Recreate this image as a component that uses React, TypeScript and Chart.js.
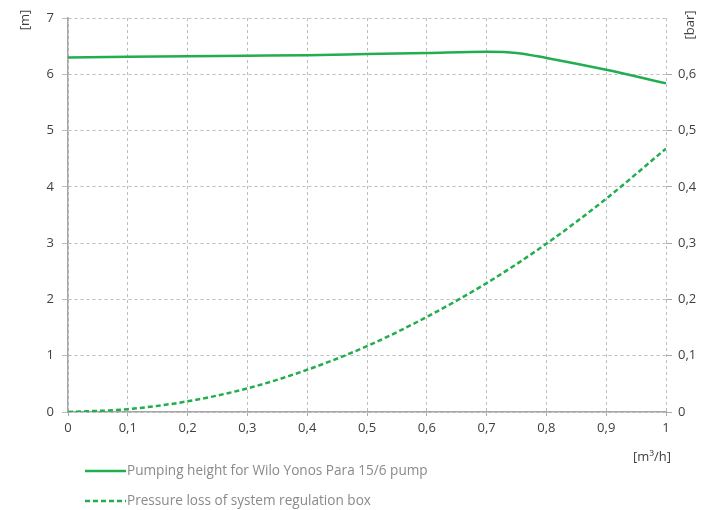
import React, { useEffect, useRef } from "react";
import { Chart, registerables } from "chart.js";

Chart.register(...registerables);

const flowRates = [0, 0.1, 0.2, 0.3, 0.4, 0.5, 0.6, 0.7, 0.75, 0.8, 0.9, 1.0];
const pumpHeight = [6.3, 6.31, 6.32, 6.33, 6.34, 6.36, 6.38, 6.4, 6.38, 6.29, 6.08, 5.84];
const lossFlow = [0, 0.1, 0.2, 0.3, 0.4, 0.5, 0.6, 0.7, 0.8, 0.9, 1.0];
const pressureLoss = [0, 0.05, 0.19, 0.42, 0.75, 1.17, 1.69, 2.29, 2.99, 3.79, 4.68];
const barTicks = [0, 0.1, 0.2, 0.3, 0.4, 0.5, 0.6];
const pumpLabel = "Pumping height for Wilo Yonos Para 15/6 pump";
const lossLabel = "Pressure loss of system regulation box";
const leftTitle = "[m]";
const rightTitle = "[bar]";
const xTitle = "[m³/h]";

const GREEN = "#22ad4f";
const FONT = "'Open Sans', 'Noto Sans', sans-serif";

const fmt = (v: number) => String(Math.round(v * 10) / 10).replace(".", ",");

export default function App() {
  const ref = useRef<HTMLCanvasElement>(null);
  useEffect(() => {
    if (!ref.current) return;
    const extras = {
      id: "extras",
      afterDraw(chart: any) {
        const ctx = chart.ctx as CanvasRenderingContext2D;
        const area = chart.chartArea;
        ctx.save();
        ctx.font = `13px ${FONT}`;
        ctx.fillStyle = "#404040";
        ctx.save();
        ctx.translate(25, 20);
        ctx.rotate(-Math.PI / 2);
        ctx.textAlign = "center";
        ctx.textBaseline = "middle";
        ctx.fillText(leftTitle, 0, 0);
        ctx.restore();
        ctx.save();
        ctx.translate(690, 25);
        ctx.rotate(-Math.PI / 2);
        ctx.textAlign = "center";
        ctx.textBaseline = "middle";
        ctx.fillText(rightTitle, 0, 0);
        ctx.restore();
        ctx.textAlign = "center";
        ctx.textBaseline = "middle";
        ctx.fillText(xTitle, area.right - 14, area.bottom + 45);
        const items = [
          { label: pumpLabel, dash: [] as number[], y: area.bottom + 59 },
          { label: lossLabel, dash: [5, 3], y: area.bottom + 89 },
        ];
        ctx.font = `13.6px ${FONT}`;
        for (const it of items) {
          ctx.save();
          ctx.strokeStyle = GREEN;
          ctx.lineWidth = 2.5;
          ctx.setLineDash(it.dash);
          ctx.beginPath();
          ctx.moveTo(85, it.y);
          ctx.lineTo(126, it.y);
          ctx.stroke();
          ctx.restore();
          ctx.fillStyle = "#8a8a8a";
          ctx.textAlign = "left";
          ctx.textBaseline = "middle";
          ctx.fillText(it.label, 127, it.y);
        }
        ctx.restore();
      },
    };
    const chart = new Chart(ref.current, {
      type: "line",
      data: {
        datasets: [
          {
            label: pumpLabel,
            data: flowRates.map((x, i) => ({ x, y: pumpHeight[i] })),
            borderColor: GREEN,
            borderWidth: 2.5,
            pointRadius: 0,
            cubicInterpolationMode: "monotone",
            yAxisID: "y",
          },
          {
            label: lossLabel,
            data: lossFlow.map((x, i) => ({ x, y: pressureLoss[i] })),
            borderColor: GREEN,
            borderWidth: 2.5,
            borderDash: [5, 3],
            pointRadius: 0,
            cubicInterpolationMode: "monotone",
            yAxisID: "y",
          },
        ],
      },
      options: {
        animation: false,
        responsive: false,
        layout: { padding: { top: 18, bottom: 68, left: 0, right: 0 } },
        plugins: { legend: { display: false }, tooltip: { enabled: false } },
        scales: {
          x: {
            type: "linear",
            min: 0,
            max: 1,
            ticks: {
              stepSize: 0.1,
              callback: (v: any) => fmt(Number(v)),
              font: { family: FONT, size: 13 },
              color: "#404040",
              padding: 4,
              maxRotation: 0,
            },
            grid: { color: "#bdbdbd", tickLength: 4, tickColor: "#aaa" },
            border: { display: true, color: "#a6a6a6", width: 1.5, dash: [3, 3] },
            afterFit: (s: any) => {
              s.height = 30;
            },
          },
          y: {
            position: "left",
            min: 0,
            max: 7,
            ticks: {
              stepSize: 1,
              font: { family: FONT, size: 13 },
              color: "#404040",
              padding: 8,
            },
            grid: { color: "#bdbdbd", tickLength: 6 },
            border: { display: true, color: "#a6a6a6", width: 1.5, dash: [3, 3] },
            afterFit: (s: any) => {
              s.width = 68;
            },
          },
          y1: {
            position: "right",
            min: 0,
            max: 0.7,
            afterBuildTicks: (s: any) => {
              s.ticks = barTicks.map((value) => ({ value }));
            },
            ticks: {
              callback: (v: any) => fmt(Number(v)),
              font: { family: FONT, size: 13 },
              color: "#404040",
              padding: 6,
            },
            grid: { drawOnChartArea: false, tickLength: 6, color: "#aaa" },
            border: { display: false },
            afterFit: (s: any) => {
              s.width = 47;
            },
          },
        },
      } as any,
      plugins: [extras],
    });
    return () => chart.destroy();
  }, []);
  return (
    <div style={{ position: "absolute", left: 0, top: 0, width: 713, height: 510 }}>
      <canvas ref={ref} width={713} height={510} />
    </div>
  );
}
